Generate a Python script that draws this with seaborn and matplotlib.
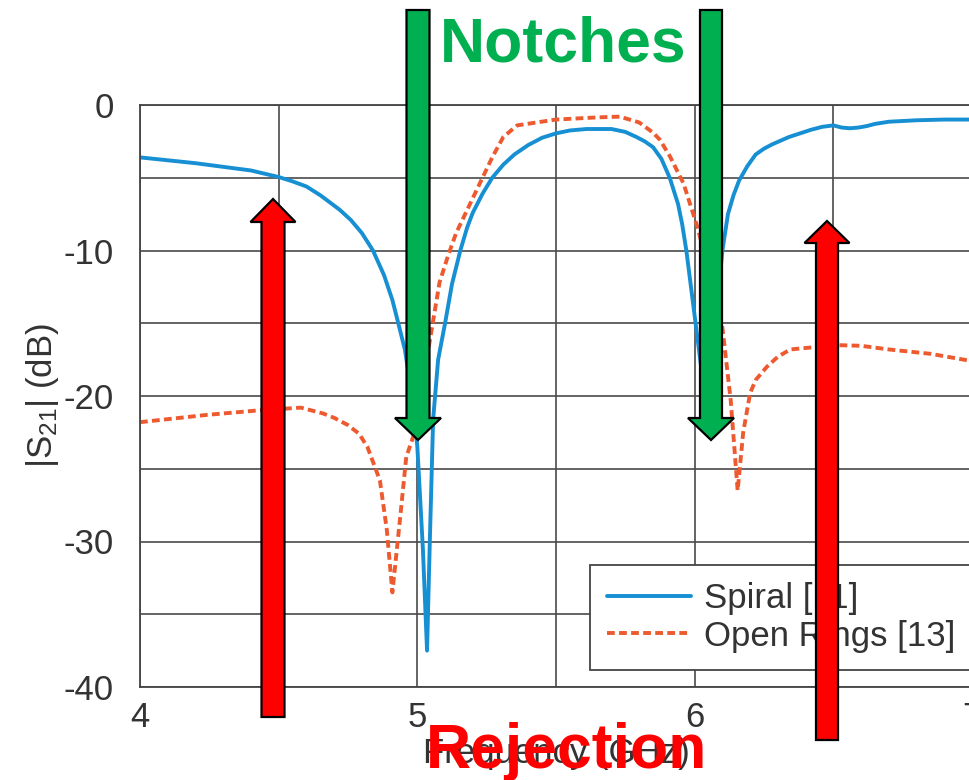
import numpy as np
import pandas as pd
import matplotlib
matplotlib.use("Agg")
import matplotlib.pyplot as plt
from matplotlib.patches import Polygon
import seaborn as sns

# ---- data ----
spiral_f = [4.00, 4.20, 4.30, 4.40, 4.50, 4.55, 4.60, 4.65, 4.72, 4.76, 4.80, 4.84, 4.88,
            4.91, 4.93, 4.955, 4.985, 5.00, 5.02, 5.035, 5.045, 5.057, 5.075, 5.10, 5.125,
            5.155, 5.18, 5.20, 5.235, 5.27, 5.31, 5.35, 5.40, 5.45, 5.50, 5.55, 5.61, 5.70,
            5.75, 5.79, 5.82, 5.85, 5.88, 5.91, 5.94, 5.955, 5.97, 5.99, 6.01, 6.03, 6.045,
            6.06, 6.08, 6.10, 6.12, 6.14, 6.16, 6.19, 6.22, 6.25, 6.28, 6.34, 6.42, 6.46,
            6.50, 6.53, 6.56, 6.59, 6.62, 6.65, 6.70, 6.80, 6.90, 7.00]
spiral_db = [-3.6, -4.0, -4.25, -4.5, -4.95, -5.25, -5.6, -6.2, -7.2, -7.9, -8.8, -10.0, -11.7,
             -13.4, -14.9, -16.8, -20.5, -23.5, -30.5, -37.5, -30.0, -21.6, -17.5, -15.0, -12.3,
             -10.0, -8.4, -7.4, -6.1, -5.0, -4.1, -3.4, -2.75, -2.25, -1.95, -1.75, -1.65, -1.65,
             -1.85, -2.2, -2.5, -2.9, -3.7, -5.0, -6.8, -8.2, -10.0, -13.0, -16.0, -19.0, -20.0,
             -18.0, -14.0, -10.0, -7.5, -6.2, -5.2, -4.2, -3.4, -3.0, -2.7, -2.2, -1.7, -1.5,
             -1.4, -1.55, -1.6, -1.55, -1.45, -1.3, -1.15, -1.05, -1.0, -1.0]

rings_f = [4.00, 4.24, 4.42, 4.50, 4.58, 4.66, 4.70, 4.75, 4.79, 4.82, 4.865, 4.89, 4.91,
           4.94, 4.96, 4.985, 5.01, 5.045, 5.08, 5.11, 5.14, 5.19, 5.23, 5.27, 5.31, 5.36,
           5.50, 5.65, 5.73, 5.80, 5.85, 5.875, 5.91, 5.96, 6.01, 6.06, 6.10, 6.13, 6.155,
           6.175, 6.20, 6.22, 6.26, 6.30, 6.345, 6.40, 6.51, 6.60, 6.70, 6.85, 7.00]
rings_db = [-21.8, -21.3, -21.0, -20.9, -20.8, -21.2, -21.5, -22.0, -22.6, -23.5, -25.8, -29.2,
            -33.5, -28.0, -24.2, -22.8, -20.0, -16.2, -12.2, -10.4, -8.8, -6.8, -5.2, -3.6,
            -2.2, -1.4, -1.0, -0.85, -0.8, -1.2, -1.9, -2.4, -3.5, -5.4, -8.4, -12.0, -15.3,
            -20.3, -26.5, -22.5, -19.8, -18.9, -18.0, -17.3, -16.8, -16.7, -16.5, -16.55,
            -16.8, -17.1, -17.6]

series_labels = ["Spiral [11]", "Open Rings [13]"]
x_ticks = [4, 5, 6, 7]
y_ticks = [-40, -30, -20, -10, 0]

# ---- styling ----
sns.set_style("white")
plt.rcParams["font.family"] = ["Liberation Sans", "DejaVu Sans"]
plt.rcParams["mathtext.fontset"] = "custom"
plt.rcParams["mathtext.rm"] = "Liberation Sans"
plt.rcParams["mathtext.it"] = "Liberation Sans"

W, H = 969, 780
fig = plt.figure(figsize=(W / 100, H / 100), dpi=100)
ax = fig.add_axes([140 / W, 1 - 687 / H, (972 - 140) / W, (687 - 105) / H])

blue = "#168fd3"
orange = "#ee5a2f"
txt = "#333333"

df_s = pd.DataFrame({"f": spiral_f, "db": spiral_db})
df_r = pd.DataFrame({"f": rings_f, "db": rings_db})
sns.lineplot(data=df_s, x="f", y="db", ax=ax, color=blue, lw=2.8, label=series_labels[0])
sns.lineplot(data=df_r, x="f", y="db", ax=ax, color=orange, lw=2.8, label=series_labels[1])
ax.lines[0].set_solid_joinstyle("round")
ax.lines[1].set_dashes((2.0, 1.1))

ax.set_xlim(4, 7)
ax.set_ylim(-40, 0)
ax.set_xticks(x_ticks)
ax.set_xticklabels([str(t) for t in x_ticks])
ax.set_yticks(y_ticks)
ax.set_yticklabels([str(t) for t in y_ticks])
ax.set_xticks([4.5, 5.5, 6.5], minor=True)
ax.set_yticks([-35, -25, -15, -5], minor=True)
ax.grid(which="both", color="#4a4a4a", lw=1.2)
ax.tick_params(which="both", length=0, labelsize=25, colors=txt)
ax.tick_params(axis="x", pad=10)
ax.tick_params(axis="y", pad=19)
for sp in ax.spines.values():
    sp.set_color("#444444")
    sp.set_linewidth(1.3)

ax.set_xlabel("Frequency (GHz)", fontsize=25, color=txt, labelpad=2)
ax.set_ylabel(r"|S$_{\mathrm{21}}$| (dB)", fontsize=25, color=txt, labelpad=2)

leg = ax.legend(loc="upper left", bbox_to_anchor=(590 / W, 1 - 565 / H),
                bbox_transform=fig.transFigure, borderaxespad=0, fontsize=25,
                handlelength=2.42, handletextpad=0.37, labelspacing=0.12,
                borderpad=0.5, fancybox=False, framealpha=1, edgecolor="#444444")
leg.get_frame().set_linewidth(1.3)
for t in leg.get_texts():
    t.set_color(txt)

# ---- annotation overlay in pixel coordinates ----
ov = fig.add_axes([0, 0, 1, 1], zorder=10)
ov.set_xlim(0, W)
ov.set_ylim(H, 0)
ov.axis("off")
ov.patch.set_alpha(0)


def arrow(cx, y_tail, y_tip, shaft_hw, head_hw, head_len, color):
    d = 1 if y_tip > y_tail else -1
    yb = y_tip - d * head_len
    pts = [(cx - shaft_hw, y_tail), (cx + shaft_hw, y_tail), (cx + shaft_hw, yb),
           (cx + head_hw, yb), (cx, y_tip), (cx - head_hw, yb), (cx - shaft_hw, yb)]
    ov.add_patch(Polygon(pts, closed=True, facecolor=color, edgecolor="black", lw=1.6))


green = "#00b050"
red = "#ff0000"
arrow(418, 10, 440, 11.5, 23, 22, green)
arrow(711, 10, 440, 11, 23, 22, green)
arrow(273, 717, 199, 11.5, 22.5, 23, red)
arrow(827, 740, 221, 11, 22.5, 22, red)

ov.text(563, 62, "Notches", color=green, fontsize=45, fontweight="bold",
        ha="center", va="baseline")
ov.text(567, 768, "Rejection", color=red, fontsize=45, fontweight="bold",
        ha="center", va="baseline")

fig.savefig("out.png", dpi=100)
